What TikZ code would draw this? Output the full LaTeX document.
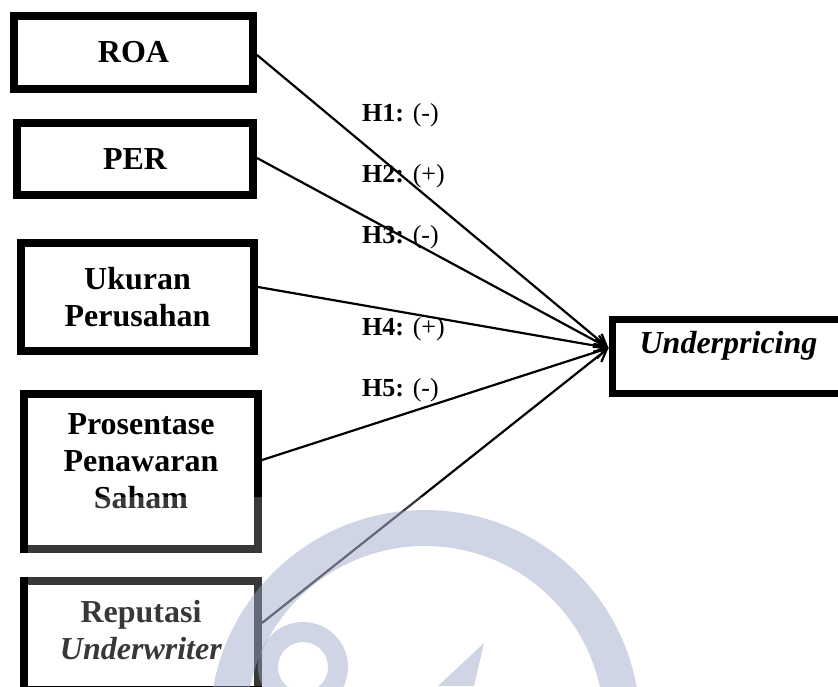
\documentclass[tikz,border=0pt]{standalone}
\usepackage{fontspec}
\setmainfont{Liberation Serif}
\usetikzlibrary{arrows.meta}

\definecolor{wmblue}{RGB}{150,163,198}
\newcommand{\padbelow}[1]{\rule[-#1]{0pt}{#1}}

\begin{document}
\begin{tikzpicture}[x=1pt,y=-1pt,
	varbox/.style={draw,line width=8pt,align=center,inner sep=0pt,minimum width=234pt,
		font=\fontsize{32}{37}\selectfont\bfseries},
	hyp/.style={anchor=base west,inner sep=0pt,font=\fontsize{26}{30}\selectfont},
	link/.style={line width=2.2pt,-{Straight Barb[length=12pt,width=13pt]}},
	wm/.style={draw=wmblue,draw opacity=0.45}
	]
\useasboundingbox (0,0) rectangle (838,686);
\clip (0,0) rectangle (838,686);

% variables
\node[varbox,minimum width=239pt,minimum height=73pt] (roa) at (133.5,52.5) {ROA};
\node[varbox,minimum width=236pt,minimum height=72pt] (per) at (135,159) {PER};
\node[varbox,minimum width=233pt,minimum height=108pt] (ukuran) at (137.5,297) {Ukuran\\Perusahan};
\node[varbox,minimum height=155pt] (saham) at (141,471.5) {Prosentase\\Penawaran\\Saham\padbelow{20pt}};
\node[varbox,minimum height=109pt] (reputasi) at (141,635.5) {Reputasi\\\textit{Underwriter}\padbelow{11pt}};
\node[varbox,line width=7pt,minimum width=233pt,minimum height=74pt,font=\fontsize{32}{37}\selectfont\bfseries\itshape]
	(under) at (728.5,356.5) {Underpricing\padbelow{29pt}};

\coordinate (tip) at ([yshift=8.5pt]under.west);
\draw[link] ([yshift=-2.5pt]roa.east) -- (tip);
\draw[link] ([yshift=1pt]per.east) -- (tip);
\draw[link] ([yshift=10pt]ukuran.east) -- (tip);
\draw[link] ([yshift=11.5pt]saham.east) -- (tip);
\draw[link] ([yshift=12.5pt]reputasi.east) -- (tip);

\foreach \k/\s/\y in {1/-/121,2/+/182,3/-/243,4/+/335,5/-/396}
	\node[hyp] (h\k) at (362,\y) {\textbf{H\k:} (\s)};

% watermark
\fill[white,fill opacity=0.22] (28,497) rectangle (720,686);
\draw[wm,line width=36pt] (425,725) circle (197);
\draw[wm,line width=20pt] (303,667) circle (35);
\fill[wmblue,fill opacity=0.45] (484,643) -- (438,686) -- (474,686) -- cycle;
\end{tikzpicture}
\end{document}
